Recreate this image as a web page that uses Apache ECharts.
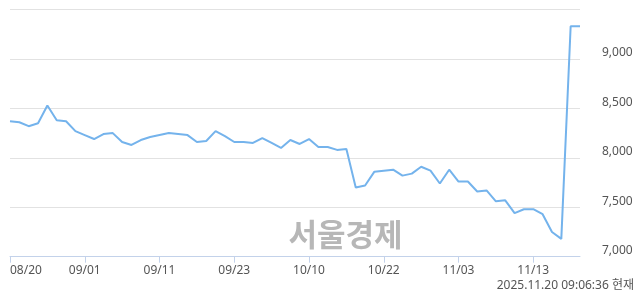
<!DOCTYPE html>
<html>
<head>
<meta charset="utf-8">
<script src="https://cdn.jsdelivr.net/npm/echarts@6/dist/echarts.min.js"></script>
<style>
html,body{margin:0;padding:0;background:#fff;}
#chart{width:640px;height:294px;}
</style>
</head>
<body>
<div id="chart"></div>
<script>
const dates = [
  '08/20','08/21','08/22','08/25','08/26','08/27','08/28','08/29',
  '09/01','09/02','09/03','09/04','09/05','09/08','09/09','09/10','09/11','09/12',
  '09/15','09/16','09/17','09/18','09/19','09/22','09/23','09/24','09/25','09/26','09/29','09/30',
  '10/01','10/02','10/10','10/13','10/14','10/15','10/16','10/17','10/20','10/21','10/22','10/23',
  '10/24','10/27','10/28','10/29','10/30','10/31',
  '11/03','11/04','11/05','11/06','11/07','11/10','11/11','11/12','11/13','11/14','11/17','11/18','11/19','11/20'
];
const prices = [
  8370, 8360, 8320, 8350, 8530, 8380, 8370, 8270,
  8230, 8190, 8240, 8250, 8160, 8130, 8180, 8210, 8230, 8250,
  8240, 8230, 8160, 8170, 8270, 8220, 8160, 8160, 8150, 8200, 8150, 8100,
  8180, 8140, 8190, 8110, 8110, 8080, 8090, 7700, 7720, 7860, 7870, 7880,
  7820, 7840, 7910, 7870, 7740, 7880,
  7760, 7760, 7660, 7670, 7560, 7570, 7440, 7480, 7480, 7430, 7250, 7180, 9330, 9330
];
const yMin = 7000, yMax = 9500, yStep = 500;
const watermark = '서울경제';
const stamp = '2025.11.20 09:06:36 현재';

const chart = echarts.init(document.getElementById('chart'), null, {renderer: 'canvas'});
const fontFam = "'Noto Sans', 'Noto Sans CJK KR', sans-serif";
chart.setOption({
  animation: false,
  grid: {left: 10, right: 60, top: 9.5, bottom: 37.3, containLabel: false},
  xAxis: {
    type: 'category',
    data: dates,
    boundaryGap: false,
    axisLine: {show: true, lineStyle: {color: '#c3d2ea', width: 1}},
    axisTick: {show: true, length: 6, interval: (i) => i % 8 === 0, lineStyle: {color: '#c3d2ea'}},
    axisLabel: {
      interval: (i) => i % 8 === 0,
      color: '#555',
      fontSize: 12,
      fontFamily: fontFam,
      margin: 8,
      alignMinLabel: 'left'
    },
    splitLine: {show: false}
  },
  yAxis: {
    type: 'value',
    position: 'right',
    min: yMin,
    max: yMax,
    interval: yStep,
    axisLine: {show: false},
    axisTick: {show: false},
    axisLabel: {
      showMaxLabel: false,
      color: '#555',
      fontSize: 12,
      lineHeight: 12,
      fontFamily: fontFam,
      margin: 22,
      verticalAlign: 'bottom',
      formatter: (v) => v.toLocaleString('en-US')
    },
    splitLine: {show: true, lineStyle: {color: '#e2e2e2', width: 1}}
  },
  graphic: [
    {
      type: 'text', x: 345.5, y: 234.5, z: 0,
      style: {text: watermark, font: "bold 31px 'Noto Sans CJK KR', sans-serif", fill: '#b7b7b7', textAlign: 'center', textVerticalAlign: 'middle'}
    },
    {
      type: 'text', x: 634, y: 286,
      style: {text: stamp, font: "12px " + fontFam, fill: '#555', textAlign: 'right', textVerticalAlign: 'middle'}
    }
  ],
  series: [{
    type: 'line',
    data: prices,
    showSymbol: false,
    lineStyle: {color: '#74b3ec', width: 2},
    itemStyle: {color: '#74b3ec'},
    z: 3
  }]
});
</script>
</body>
</html>
